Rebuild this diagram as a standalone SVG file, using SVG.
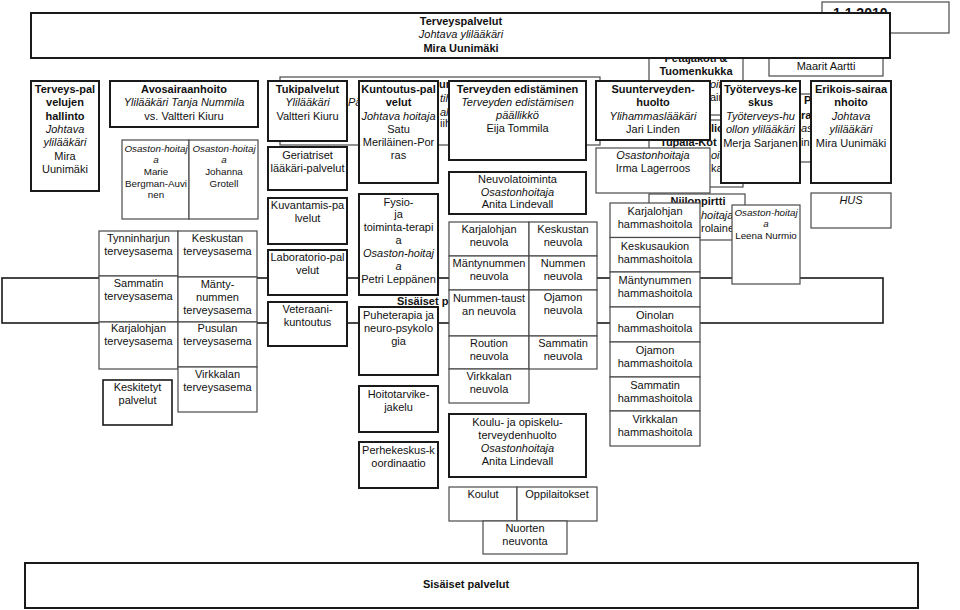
<svg xmlns="http://www.w3.org/2000/svg" width="960" height="610" viewBox="0 0 960 610">
<style>
rect{fill:#fff}
.t{stroke:#1a1a1a;stroke-width:2}
.n{stroke:#4a4a4a;stroke-width:1.2}
text{font-family:"Liberation Sans",Arial,sans-serif;font-size:11px;fill:#111;text-anchor:middle}
.b{font-weight:bold}
.i{font-style:italic}
.s{font-size:9.8px}
.l{text-anchor:start}
</style>
<rect x="0" y="0" width="960" height="610" style="fill:#fff"/>
<g id="connectors"></g>

<!-- hidden background boxes -->
<g id="n-date"><rect class="n" x="822" y="2" width="127" height="31"/><text class="b l" x="833" y="18" style="font-size:14px">1.1.2010</text></g>
<g id="n-maarit"><rect class="n" x="769" y="35" width="114" height="41"/><text x="826" y="70">Maarit Aartti</text></g>
<g id="n-petajakoti"><rect class="n" x="649" y="48" width="94" height="67"/><text class="b" x="696" y="62">Petajakoti &amp;</text><text class="b" x="696" y="75">Tuomenkukka</text><text class="i l" x="710" y="88">oit</text><text class="l" x="710" y="101">ain</text></g>
<g id="n-tupala"><rect class="n" x="649" y="120" width="94" height="67"/><text class="b l" x="711" y="132">lio</text><text class="b l" x="660" y="146">Tupala-Kot</text><text class="i l" x="711" y="159">oit</text><text class="l" x="711" y="172">ka</text></g>
<g id="n-niiloppirtti"><rect class="n" x="649" y="194" width="96" height="46"/><text class="b" x="698" y="205">Niiloppirtti</text><text class="i l" x="701" y="219">hoitaja</text><text class="l" x="701" y="232">rolaine</text></g>
<g id="n-hidden3"><rect class="n" x="760" y="94" width="90" height="68"/><text class="b l" x="804" y="104">P</text><text class="b l" x="801" y="119">ra</text><text class="i l" x="801" y="132">as</text><text class="l" x="801" y="146">in</text></g>
<g id="n-hidden-wide"><rect class="n" x="280" y="77" width="320" height="68"/><text class="i l" x="348" y="106">Pä</text><text class="b l" x="439" y="88">un</text><text class="i l" x="440" y="102">tih</text><text class="i l" x="440" y="116">alu</text><text class="l" x="440" y="127">iih</text></g>
<g id="n-sisaiset-mid"><rect style="fill:none;stroke:#1a1a1a;stroke-width:1.6" x="2" y="278" width="881" height="45"/><text class="b l" x="397" y="305">Sisäiset p</text></g>

<!-- top -->
<g id="n-terveyspalvelut"><rect class="t" x="31" y="13" width="859" height="45"/><text class="b" x="461" y="25">Terveyspalvelut</text><text class="i" x="461" y="38">Johtava ylilääkäri</text><text class="b" x="461" y="52">Mira Uunimäki</text></g>

<g id="n-hallinto"><rect class="t" x="31" y="81" width="68" height="110"/><text class="b" x="65" y="93">Terveys-pal</text><text class="b" x="65" y="106">velujen</text><text class="b" x="65" y="119.5">hallinto</text><text class="i" x="65" y="133">Johtava</text><text class="i" x="65" y="146">ylilääkäri</text><text x="65" y="159.5">Mira</text><text x="65" y="173">Uunimäki</text></g>

<g id="n-avosairaanhoito"><rect class="t" x="110" y="81" width="148" height="46"/><text class="b" x="184" y="93">Avosairaanhoito</text><text class="i" x="184" y="106">Ylilääkäri Tanja Nummila</text><text x="184" y="120">vs. Valtteri Kiuru</text></g>
<g id="n-oh-bergman"><rect class="n" x="122" y="140" width="67" height="79"/><text class="i s" x="156" y="152">Osaston-hoitaj</text><text class="i s" x="156" y="163">a</text><text class="s" x="156" y="175">Marie</text><text class="s" x="156" y="187">Bergman-Auvi</text><text class="s" x="156" y="198">nen</text></g>
<g id="n-oh-grotell"><rect class="n" x="189" y="140" width="69" height="79"/><text class="i s" x="224" y="152">Osaston-hoitaj</text><text class="i s" x="224" y="163">a</text><text class="s" x="224" y="175">Johanna</text><text class="s" x="224" y="187">Grotell</text></g>

<g id="n-tynninharju"><rect class="n" x="99" y="231" width="79" height="45"/><text x="138.5" y="242">Tynninharjun</text><text x="138.5" y="255">terveysasema</text></g>
<g id="n-sammatti-ta"><rect class="n" x="99" y="276" width="79" height="46"/><text x="138.5" y="287">Sammatin</text><text x="138.5" y="300">terveysasema</text></g>
<g id="n-karjalohja-ta"><rect class="n" x="99" y="322" width="79" height="47"/><text x="138.5" y="332">Karjalohjan</text><text x="138.5" y="345">terveysasema</text></g>
<g id="n-keskusta-ta"><rect class="n" x="178" y="231" width="79" height="46"/><text x="217.5" y="242">Keskustan</text><text x="217.5" y="255">terveysasema</text></g>
<g id="n-manty-ta"><rect class="n" x="178" y="277" width="79" height="45"/><text x="217.5" y="288">Mänty-</text><text x="217.5" y="301">nummen</text><text x="217.5" y="314">terveysasema</text></g>
<g id="n-pusula-ta"><rect class="n" x="178" y="322" width="79" height="45"/><text x="217.5" y="332">Pusulan</text><text x="217.5" y="345">terveysasema</text></g>
<g id="n-virkkala-ta"><rect class="n" x="178" y="367" width="79" height="45"/><text x="217.5" y="378">Virkkalan</text><text x="217.5" y="391">terveysasema</text></g>
<g id="n-keskitetyt"><rect class="t" style="stroke-width:1.6" x="103" y="380" width="69" height="45"/><text x="137.5" y="391">Keskitetyt</text><text x="137.5" y="404">palvelut</text></g>

<g id="n-tukipalvelut"><rect class="t" x="268" y="81" width="79" height="60"/><text class="b" x="307.5" y="93">Tukipalvelut</text><text class="i" x="307.5" y="106">Ylilääkäri</text><text x="307.5" y="120">Valtteri Kiuru</text></g>
<g id="n-geriatriset"><rect class="t" x="268" y="147" width="79" height="43"/><text x="307.5" y="159">Geriatriset</text><text x="307.5" y="172">lääkäri-palvelut</text></g>
<g id="n-kuvantamis"><rect class="t" x="268" y="198" width="79" height="46"/><text x="307.5" y="209">Kuvantamis-pa</text><text x="307.5" y="222">lvelut</text></g>
<g id="n-laboratorio"><rect class="t" x="268" y="250" width="79" height="45"/><text x="307.5" y="261">Laboratorio-pal</text><text x="307.5" y="274">velut</text></g>
<g id="n-veteraani"><rect class="t" x="268" y="302" width="79" height="44"/><text x="307.5" y="313">Veteraani-</text><text x="307.5" y="326">kuntoutus</text></g>

<g id="n-kuntoutus"><rect class="t" x="359" y="81" width="79" height="102"/><text class="b" x="398.5" y="93">Kuntoutus-pal</text><text class="b" x="398.5" y="106">velut</text><text class="i" x="398.5" y="120">Johtava hoitaja</text><text x="398.5" y="133">Satu</text><text x="398.5" y="146">Meriläinen-Por</text><text x="398.5" y="159">ras</text></g>
<g id="n-fysio"><rect class="t" x="359" y="194" width="79" height="101"/><text x="398.5" y="206">Fysio-</text><text x="398.5" y="218">ja</text><text x="398.5" y="231">toiminta-terapi</text><text x="398.5" y="244">a</text><text class="i" x="398.5" y="257">Osaston-hoitaj</text><text class="i" x="398.5" y="270">a</text><text x="398.5" y="283">Petri Leppänen</text></g>
<g id="n-puheterapia"><rect class="t" x="359" y="307" width="79" height="68"/><text x="398.5" y="319">Puheterapia ja</text><text x="398.5" y="332">neuro-psykolo</text><text x="398.5" y="345">gia</text></g>
<g id="n-hoitotarvike"><rect class="t" x="359" y="386" width="79" height="46"/><text x="398.5" y="398">Hoitotarvike-</text><text x="398.5" y="411">jakelu</text></g>
<g id="n-perhekeskus"><rect class="t" x="359" y="442" width="79" height="46"/><text x="398.5" y="454">Perhekeskus-k</text><text x="398.5" y="467">oordinaatio</text></g>

<g id="n-terveyden-edistaminen"><rect class="t" x="449" y="81" width="137" height="79"/><text class="b" x="517.5" y="93">Terveyden edistäminen</text><text class="i" x="517.5" y="106">Terveyden edistämisen</text><text class="i" x="517.5" y="119">päällikkö</text><text x="517.5" y="132">Eija Tommila</text></g>
<g id="n-neuvolatoiminta"><rect class="t" x="449" y="172" width="137" height="42"/><text x="517.5" y="183">Neuvolatoiminta</text><text class="i" x="517.5" y="196">Osastonhoitaja</text><text x="517.5" y="208">Anita Lindevall</text></g>
<g id="n-nv-karjalohja"><rect class="n" x="449" y="222" width="80" height="34"/><text x="489" y="233">Karjalohjan</text><text x="489" y="246">neuvola</text></g>
<g id="n-nv-keskusta"><rect class="n" x="529" y="222" width="68" height="34"/><text x="563" y="233">Keskustan</text><text x="563" y="246">neuvola</text></g>
<g id="n-nv-manty"><rect class="n" x="449" y="256" width="80" height="34"/><text x="489" y="267">Mäntynummen</text><text x="489" y="280">neuvola</text></g>
<g id="n-nv-nummi"><rect class="n" x="529" y="256" width="68" height="34"/><text x="563" y="267">Nummen</text><text x="563" y="280">neuvola</text></g>
<g id="n-nv-nummentausta"><rect class="n" x="449" y="290" width="80" height="46"/><text x="489" y="302">Nummen-taust</text><text x="489" y="315">an neuvola</text></g>
<g id="n-nv-ojamo"><rect class="n" x="529" y="290" width="68" height="46"/><text x="563" y="301">Ojamon</text><text x="563" y="314">neuvola</text></g>
<g id="n-nv-routio"><rect class="n" x="449" y="336" width="80" height="33"/><text x="489" y="347">Roution</text><text x="489" y="360">neuvola</text></g>
<g id="n-nv-sammatti"><rect class="n" x="529" y="336" width="68" height="33"/><text x="563" y="347">Sammatin</text><text x="563" y="360">neuvola</text></g>
<g id="n-nv-virkkala"><rect class="n" x="449" y="369" width="80" height="34"/><text x="489" y="380">Virkkalan</text><text x="489" y="393">neuvola</text></g>
<g id="n-koulu"><rect class="t" x="449" y="414" width="137" height="63"/><text x="517.5" y="426">Koulu- ja opiskelu-</text><text x="517.5" y="439">terveydenhuolto</text><text class="i" x="517.5" y="452">Osastonhoitaja</text><text x="517.5" y="465">Anita Lindevall</text></g>
<g id="n-koulut"><rect class="n" x="449" y="487" width="68" height="34"/><text x="483" y="498">Koulut</text></g>
<g id="n-oppilaitokset"><rect class="n" x="517" y="487" width="80" height="34"/><text x="557" y="498">Oppilaitokset</text></g>
<g id="n-nuorten"><rect class="n" x="483" y="521" width="84" height="33"/><text x="525" y="532">Nuorten</text><text x="525" y="545">neuvonta</text></g>

<g id="n-suunterveydenhuolto"><rect class="t" x="596" y="81" width="114" height="59"/><text class="b" x="653" y="93">Suunterveyden-</text><text class="b" x="653" y="106">huolto</text><text class="i" x="653" y="120">Ylihammaslääkäri</text><text x="653" y="133">Jari Linden</text></g>
<g id="n-irma"><rect class="n" x="596" y="148" width="114" height="45"/><text class="i" x="653" y="159">Osastonhoitaja</text><text x="653" y="172">Irma Lagerroos</text></g>
<g id="n-hh-karjalohja"><rect class="n" x="610" y="203" width="90" height="34.5"/><text x="655" y="215">Karjalohjan</text><text x="655" y="228">hammashoitola</text></g>
<g id="n-hh-keskusaukio"><rect class="n" x="610" y="237.5" width="90" height="34.5"/><text x="655" y="249.5">Keskusaukion</text><text x="655" y="262.5">hammashoitola</text></g>
<g id="n-hh-manty"><rect class="n" x="610" y="272" width="90" height="35"/><text x="655" y="284">Mäntynummen</text><text x="655" y="297">hammashoitola</text></g>
<g id="n-hh-oinola"><rect class="n" x="610" y="307" width="90" height="35"/><text x="655" y="319">Oinolan</text><text x="655" y="332">hammashoitola</text></g>
<g id="n-hh-ojamo"><rect class="n" x="610" y="342" width="90" height="35"/><text x="655" y="354">Ojamon</text><text x="655" y="367">hammashoitola</text></g>
<g id="n-hh-sammatti"><rect class="n" x="610" y="377" width="90" height="34"/><text x="655" y="389">Sammatin</text><text x="655" y="402">hammashoitola</text></g>
<g id="n-hh-virkkala"><rect class="n" x="610" y="411" width="90" height="35"/><text x="655" y="423">Virkkalan</text><text x="655" y="436">hammashoitola</text></g>
<g id="n-leena"><rect class="n" x="732" y="205" width="68" height="79"/><text class="i s" x="766" y="216">Osaston-hoitaj</text><text class="i s" x="766" y="227">a</text><text class="s" x="766" y="239">Leena Nurmio</text></g>

<g id="n-tyoterveys"><rect class="t" x="721" y="81" width="79" height="102"/><text class="b" x="760.5" y="93">Työterveys-ke</text><text class="b" x="760.5" y="106">skus</text><text class="i" x="760.5" y="120">Työterveys-hu</text><text class="i" x="760.5" y="133">ollon ylilääkäri</text><text x="760.5" y="147">Merja Sarjanen</text></g>
<g id="n-erikois"><rect class="t" x="811" y="81" width="80" height="102"/><text class="b" x="851" y="93">Erikois-sairaa</text><text class="b" x="851" y="106">nhoito</text><text class="i" x="851" y="120">Johtava</text><text class="i" x="851" y="133">ylilääkäri</text><text x="851" y="147">Mira Uunimäki</text></g>
<g id="n-hus"><rect class="n" x="811" y="193" width="80" height="35"/><text class="i" x="851" y="204">HUS</text></g>

<g id="n-sisaiset"><rect class="t" x="25" y="563" width="893" height="45"/><text class="b" x="466" y="588">Sisäiset palvelut</text></g>
</svg>
